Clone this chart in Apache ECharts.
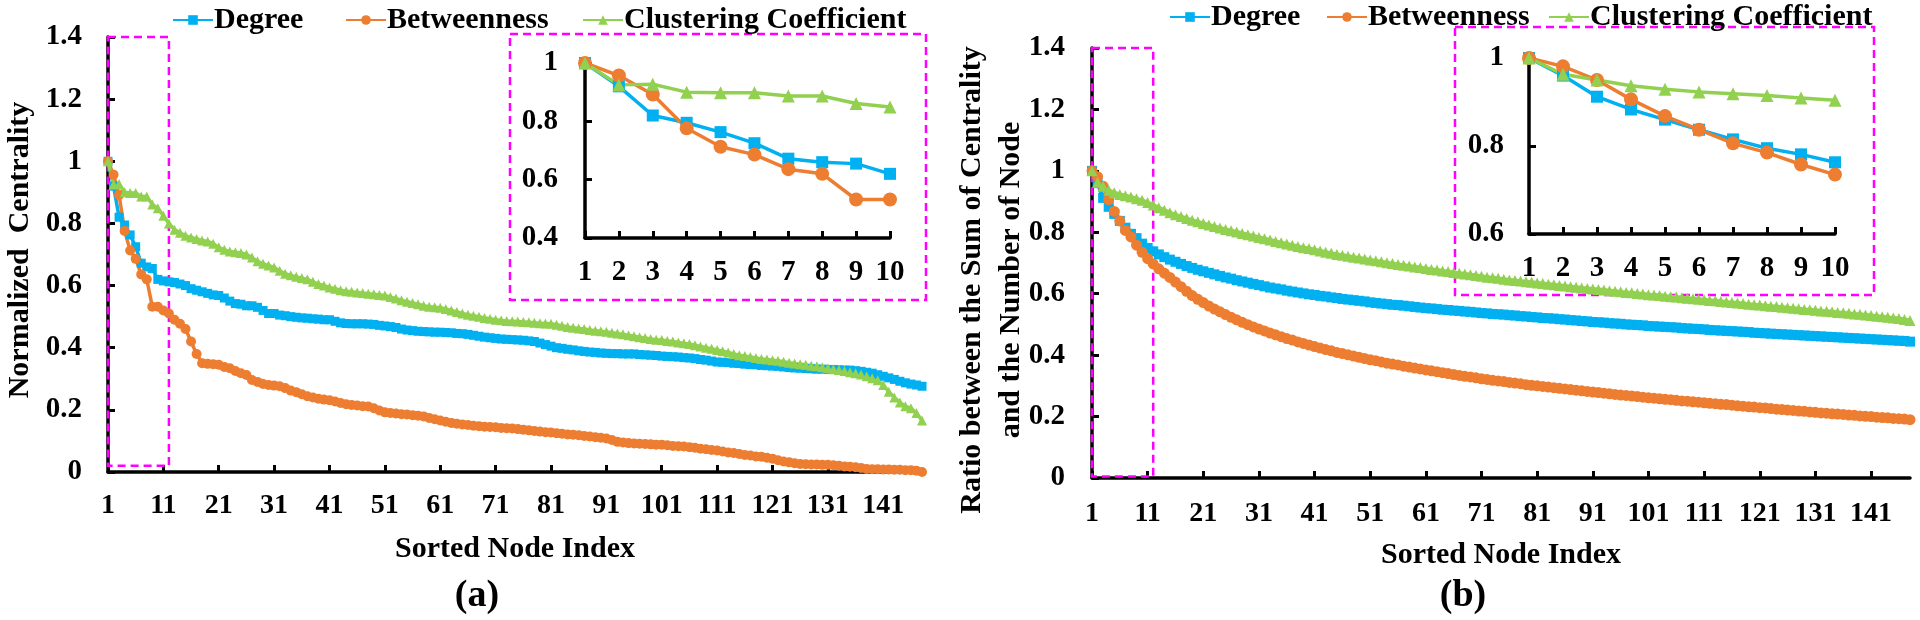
<!DOCTYPE html>
<html><head><meta charset="utf-8">
<script src="https://cdn.jsdelivr.net/npm/echarts@6/dist/echarts.min.js"></script>
<style>html,body{margin:0;padding:0;background:#fff}#c{width:1920px;height:620px}</style>
</head><body><div id="c"></div>
<script>
// ---------- categories / tick labels ----------
const nodeIndex = [];
for (let i = 1; i <= 148; i++) nodeIndex.push(String(i));
const insetIndex = ['1','2','3','4','5','6','7','8','9','10'];
const seriesNames = ['Degree', 'Betweenness', 'Clustering Coefficient'];

// ---------- (a) normalized centrality, sorted ----------
const degreeA = [
 1, 0.92, 0.82, 0.795, 0.763, 0.725, 0.672, 0.66, 0.655, 0.62,
 0.615, 0.612, 0.61, 0.605, 0.60, 0.59, 0.585, 0.58, 0.575, 0.57,
 0.568, 0.56, 0.55, 0.542, 0.54, 0.535, 0.535, 0.53, 0.52, 0.51,
 0.51, 0.505, 0.503, 0.50, 0.498, 0.496, 0.495, 0.493, 0.492, 0.49,
 0.49, 0.485, 0.48, 0.478, 0.477, 0.477, 0.477, 0.476, 0.475, 0.472,
 0.47, 0.468, 0.465, 0.46, 0.457, 0.455, 0.453, 0.452, 0.451, 0.45,
 0.45, 0.449, 0.448, 0.446, 0.445, 0.443, 0.44, 0.437, 0.434, 0.432,
 0.43, 0.428, 0.427, 0.426, 0.425, 0.424, 0.422, 0.42, 0.415, 0.41,
 0.405, 0.40, 0.398, 0.395, 0.393, 0.39, 0.388, 0.386, 0.385, 0.383,
 0.382, 0.381, 0.381, 0.38, 0.38, 0.38, 0.378, 0.377, 0.376, 0.375,
 0.373, 0.372, 0.371, 0.37, 0.368, 0.367, 0.365, 0.362, 0.36, 0.357,
 0.354, 0.353, 0.352, 0.35, 0.349, 0.347, 0.346, 0.345, 0.343, 0.342,
 0.341, 0.34, 0.338, 0.336, 0.335, 0.334, 0.333, 0.332, 0.331, 0.331,
 0.33, 0.33, 0.329, 0.328, 0.328, 0.326, 0.324, 0.321, 0.318, 0.313,
 0.308, 0.303, 0.298, 0.292, 0.287, 0.283, 0.28, 0.276
];
const betweennessA = [
 1, 0.957, 0.892, 0.776, 0.713, 0.686, 0.636, 0.62, 0.532, 0.532,
 0.52, 0.51, 0.49, 0.477, 0.46, 0.42, 0.38, 0.35, 0.348, 0.347,
 0.345, 0.338, 0.334, 0.325, 0.318, 0.312, 0.296, 0.29, 0.283, 0.28,
 0.278, 0.276, 0.27, 0.262, 0.257, 0.25, 0.244, 0.24, 0.236, 0.233,
 0.231, 0.227, 0.222, 0.218, 0.216, 0.214, 0.212, 0.211, 0.205, 0.198,
 0.192, 0.19, 0.188, 0.186, 0.185, 0.183, 0.181, 0.179, 0.174, 0.17,
 0.166, 0.162, 0.158, 0.155, 0.153, 0.151, 0.149, 0.147, 0.146, 0.145,
 0.144, 0.142, 0.141, 0.14, 0.138, 0.136, 0.134, 0.132, 0.13, 0.128,
 0.127, 0.125, 0.123, 0.121, 0.12, 0.118, 0.116, 0.114, 0.112, 0.11,
 0.108, 0.103, 0.097, 0.095, 0.093, 0.092, 0.091, 0.09, 0.089, 0.088,
 0.088, 0.086, 0.084, 0.083, 0.082, 0.08, 0.078, 0.075, 0.073, 0.071,
 0.069, 0.066, 0.063, 0.061, 0.058, 0.055, 0.053, 0.05, 0.049, 0.046,
 0.043, 0.038, 0.034, 0.031, 0.028, 0.026, 0.025, 0.024, 0.024, 0.023,
 0.023, 0.022, 0.02, 0.018, 0.017, 0.015, 0.013, 0.01, 0.009, 0.009,
 0.008, 0.008, 0.007, 0.007, 0.006, 0.006, 0.004, 0.0
];
const clusteringA = [
 1, 0.925, 0.927, 0.90, 0.898, 0.898, 0.887, 0.887, 0.861, 0.849,
 0.825, 0.80, 0.78, 0.77, 0.76, 0.755, 0.75, 0.745, 0.742, 0.735,
 0.723, 0.715, 0.71, 0.707, 0.705, 0.70, 0.69, 0.678, 0.67, 0.665,
 0.658, 0.648, 0.638, 0.633, 0.628, 0.624, 0.62, 0.612, 0.605, 0.60,
 0.594, 0.59, 0.585, 0.582, 0.58, 0.578, 0.576, 0.574, 0.572, 0.57,
 0.568, 0.563, 0.558, 0.553, 0.548, 0.544, 0.54, 0.535, 0.532, 0.53,
 0.529, 0.525, 0.52, 0.515, 0.51, 0.506, 0.503, 0.50, 0.496, 0.493,
 0.49, 0.488, 0.486, 0.485, 0.484, 0.483, 0.482, 0.48, 0.479, 0.478,
 0.477, 0.474, 0.471, 0.467, 0.464, 0.462, 0.46, 0.457, 0.455, 0.453,
 0.451, 0.448, 0.446, 0.443, 0.44, 0.437, 0.434, 0.431, 0.428, 0.426,
 0.425, 0.422, 0.42, 0.417, 0.414, 0.412, 0.408, 0.404, 0.40, 0.397,
 0.393, 0.389, 0.385, 0.38, 0.376, 0.373, 0.37, 0.367, 0.364, 0.362,
 0.36, 0.358, 0.355, 0.352, 0.349, 0.347, 0.345, 0.342, 0.34, 0.337,
 0.334, 0.331, 0.328, 0.325, 0.321, 0.318, 0.314, 0.308, 0.302, 0.295,
 0.28, 0.258, 0.24, 0.224, 0.212, 0.205, 0.19, 0.166
];

// ---------- (b) ratio between sum of centrality and number of nodes ----------
const degreeB = [
 1, 0.96, 0.912, 0.883, 0.86, 0.837, 0.815, 0.795, 0.781, 0.763,
 0.749, 0.738, 0.728, 0.719, 0.711, 0.704, 0.697, 0.690, 0.684, 0.678,
 0.673, 0.668, 0.663, 0.658, 0.653, 0.649, 0.644, 0.640, 0.636, 0.632,
 0.628, 0.624, 0.620, 0.617, 0.614, 0.610, 0.607, 0.604, 0.601, 0.598,
 0.596, 0.593, 0.591, 0.588, 0.586, 0.583, 0.581, 0.579, 0.577, 0.575,
 0.572, 0.570, 0.568, 0.566, 0.564, 0.563, 0.561, 0.559, 0.557, 0.555,
 0.553, 0.552, 0.550, 0.548, 0.547, 0.545, 0.544, 0.542, 0.541, 0.539,
 0.537, 0.536, 0.534, 0.533, 0.532, 0.530, 0.529, 0.527, 0.526, 0.524,
 0.523, 0.521, 0.520, 0.519, 0.517, 0.516, 0.514, 0.513, 0.511, 0.510,
 0.508, 0.507, 0.506, 0.504, 0.503, 0.502, 0.500, 0.499, 0.498, 0.497,
 0.495, 0.494, 0.493, 0.492, 0.491, 0.490, 0.488, 0.487, 0.486, 0.485,
 0.484, 0.482, 0.481, 0.480, 0.479, 0.478, 0.477, 0.476, 0.475, 0.473,
 0.472, 0.471, 0.470, 0.469, 0.468, 0.467, 0.466, 0.465, 0.464, 0.463,
 0.462, 0.461, 0.460, 0.459, 0.458, 0.457, 0.456, 0.455, 0.454, 0.453,
 0.452, 0.451, 0.450, 0.449, 0.448, 0.447, 0.446, 0.444
];
const betweennessB = [
 1, 0.981, 0.95, 0.906, 0.868, 0.837, 0.806, 0.785, 0.758, 0.735,
 0.714, 0.697, 0.681, 0.667, 0.653, 0.638, 0.623, 0.608, 0.594, 0.582,
 0.571, 0.560, 0.550, 0.541, 0.532, 0.523, 0.515, 0.507, 0.499, 0.492,
 0.485, 0.479, 0.472, 0.466, 0.460, 0.454, 0.449, 0.443, 0.438, 0.433,
 0.428, 0.423, 0.418, 0.414, 0.409, 0.405, 0.401, 0.397, 0.393, 0.389,
 0.385, 0.382, 0.378, 0.374, 0.371, 0.368, 0.364, 0.361, 0.358, 0.355,
 0.352, 0.349, 0.346, 0.343, 0.340, 0.337, 0.334, 0.331, 0.329, 0.326,
 0.323, 0.321, 0.318, 0.316, 0.314, 0.311, 0.309, 0.307, 0.304, 0.302,
 0.300, 0.298, 0.296, 0.294, 0.292, 0.290, 0.288, 0.286, 0.284, 0.282,
 0.280, 0.278, 0.276, 0.274, 0.272, 0.270, 0.269, 0.267, 0.265, 0.263,
 0.261, 0.260, 0.258, 0.256, 0.255, 0.253, 0.251, 0.250, 0.248, 0.247,
 0.245, 0.243, 0.242, 0.240, 0.239, 0.237, 0.235, 0.234, 0.232, 0.231,
 0.229, 0.228, 0.226, 0.224, 0.223, 0.221, 0.220, 0.218, 0.217, 0.215,
 0.214, 0.212, 0.211, 0.209, 0.208, 0.207, 0.205, 0.204, 0.202, 0.201,
 0.200, 0.198, 0.197, 0.196, 0.194, 0.193, 0.192, 0.190
];
const clusteringB = [
 1, 0.963, 0.95, 0.937, 0.929, 0.923, 0.919, 0.915, 0.909, 0.904,
 0.897, 0.889, 0.880, 0.872, 0.864, 0.857, 0.851, 0.845, 0.839, 0.834,
 0.829, 0.824, 0.819, 0.814, 0.809, 0.805, 0.801, 0.796, 0.792, 0.788,
 0.783, 0.779, 0.775, 0.770, 0.766, 0.762, 0.758, 0.754, 0.750, 0.747,
 0.743, 0.739, 0.735, 0.732, 0.728, 0.725, 0.722, 0.719, 0.716, 0.713,
 0.710, 0.707, 0.704, 0.701, 0.698, 0.695, 0.693, 0.690, 0.687, 0.685,
 0.682, 0.679, 0.677, 0.674, 0.672, 0.669, 0.667, 0.664, 0.662, 0.659,
 0.657, 0.654, 0.652, 0.650, 0.647, 0.645, 0.643, 0.641, 0.639, 0.637,
 0.635, 0.633, 0.631, 0.629, 0.627, 0.625, 0.623, 0.621, 0.619, 0.617,
 0.615, 0.614, 0.612, 0.610, 0.608, 0.606, 0.604, 0.603, 0.601, 0.599,
 0.597, 0.596, 0.594, 0.592, 0.590, 0.589, 0.587, 0.585, 0.584, 0.582,
 0.580, 0.578, 0.577, 0.575, 0.573, 0.571, 0.570, 0.568, 0.566, 0.564,
 0.563, 0.561, 0.559, 0.558, 0.556, 0.554, 0.553, 0.551, 0.549, 0.548,
 0.546, 0.544, 0.543, 0.541, 0.539, 0.538, 0.536, 0.534, 0.533, 0.531,
 0.529, 0.527, 0.525, 0.523, 0.521, 0.519, 0.516, 0.513
];

// ---------- styling ----------
const FONT = 'Liberation Serif';
const COLORS = ['#00B0F0', '#ED7D31', '#92D050'];
const SYMBOLS = ['rect', 'circle', 'triangle'];
const MAGENTA = '#FF00FF';

function txt(size) { return {color:'#000', fontFamily:FONT, fontWeight:'bold', fontSize:size}; }

function xAxisCfg(gridIndex, data, tickInterval, labelSize, margin, name, nameGap) {
  const o = {
    type:'category', gridIndex, data, boundaryGap:false,
    axisLine:{onZero:false, lineStyle:{color:'#000', width:3.5}},
    axisTick:{inside:true, length:7, interval:tickInterval, lineStyle:{color:'#000', width:3}},
    axisLabel:Object.assign({interval:tickInterval, margin}, txt(labelSize)),
    splitLine:{show:false}
  };
  if (name) { o.name = name; o.nameLocation = 'middle'; o.nameGap = nameGap; o.nameTextStyle = txt(30); }
  return o;
}
function yAxisCfg(gridIndex, min, max, labelSize, margin) {
  return {
    type:'value', gridIndex, min, max, interval:0.2,
    axisLine:{show:true, lineStyle:{color:'#000', width:3.5}},
    axisTick:{show:true, inside:true, length:7, lineStyle:{color:'#000', width:3}},
    axisLabel:Object.assign({margin}, txt(labelSize)),
    splitLine:{show:false}
  };
}
function lineSeries(k, data, xi, yi, size, lw, extra) {
  return Object.assign({
    type:'line', name:seriesNames[k], data, xAxisIndex:xi, yAxisIndex:yi,
    symbol:SYMBOLS[k], symbolSize:size, showAllSymbol:true,
    lineStyle:{color:COLORS[k], width:lw}, itemStyle:{color:COLORS[k]},
    emphasis:{disabled:true}, animation:false
  }, extra || {});
}
function zoomBox(xEnd, yBottom) {
  return {
    silent:true,
    itemStyle:{color:'rgba(0,0,0,0)', borderColor:MAGENTA, borderWidth:2.5, borderType:[8,5]},
    data:[[{xAxis:'1', yAxis:1.4}, {xAxis:xEnd, yAxis:yBottom}]]
  };
}

const aSets = [degreeA, betweennessA, clusteringA];
const bSets = [degreeB, betweennessB, clusteringB];
const mainSizeA = [9, 10, 10];
const mainSizeB = [10, 11, 11];
const insetSize = [12, 14, 13];

const series = [];
aSets.forEach((d, k) => series.push(lineSeries(k, d, 0, 0, mainSizeA[k], 3.5,
  k === 0 ? {markArea: zoomBox('12', 0.02)} : null)));
aSets.forEach((d, k) => series.push(lineSeries(k, d.slice(0, 10), 1, 1, insetSize[k], 3.5)));
bSets.forEach((d, k) => series.push(lineSeries(k, d, 2, 2, mainSizeB[k], 4,
  k === 0 ? {markArea: zoomBox('12', 0.005)} : null)));
bSets.forEach((d, k) => series.push(lineSeries(k, d.slice(0, 10), 3, 3, insetSize[k], 3.5)));

function legend(name, left, top) {
  return {data:[name], left, top, itemWidth:40, itemHeight:12, itemGap:0, padding:[2,0,2,0],
    selectedMode:false, textStyle:Object.assign(txt(30), {padding:[0,0,0,-4]})};
}
function vText(x, y, text, size, lineHeight) {
  return {type:'text', x, y, rotation:Math.PI / 2, silent:true,
    style:{text, font:'bold ' + size + 'px ' + FONT, fill:'#000', textAlign:'center',
      textVerticalAlign:'middle', lineHeight}};
}

const option = {
  animation:false,
  backgroundColor:'#fff',
  grid:[
    {left:108, top:37, width:814, height:435},
    {left:585, top:63, width:305, height:175},
    {left:1092, top:48, width:818, height:430},
    {left:1529, top:58, width:306, height:176}
  ],
  legend:[
    legend('Degree', 172, 3), legend('Betweenness', 345, 3), legend('Clustering Coefficient', 582, 3),
    legend('Degree', 1169, 0), legend('Betweenness', 1326, 0), legend('Clustering Coefficient', 1548, 0)
  ],
  xAxis:[
    xAxisCfg(0, nodeIndex, 9, 28, 20, 'Sorted Node Index', 62),
    xAxisCfg(1, insetIndex, 0, 29, 20),
    xAxisCfg(2, nodeIndex, 9, 28, 22, 'Sorted Node Index', 62),
    xAxisCfg(3, insetIndex, 0, 29, 20)
  ],
  yAxis:[
    yAxisCfg(0, 0, 1.4, 29, 26),
    yAxisCfg(1, 0.4, 1.0, 29, 27),
    yAxisCfg(2, 0, 1.4, 29, 27),
    yAxisCfg(3, 0.6, 1.0, 29, 25)
  ],
  graphic:[
    {type:'rect', silent:true, shape:{x:510, y:34, width:416, height:266},
      style:{fill:'none', stroke:MAGENTA, lineWidth:2.5, lineDash:[8,5]}},
    {type:'rect', silent:true, shape:{x:1455, y:27, width:419, height:268},
      style:{fill:'none', stroke:MAGENTA, lineWidth:2.5, lineDash:[8,5]}},
    vText(20, 250, 'Normalized  Centrality', 30, 34),
    vText(992, 280, 'Ratio between the Sum of Centrality\nand the Number of Node', 30, 39),
    {type:'text', x:477, y:596, silent:true, style:{text:'(a)', font:'bold 38px ' + FONT, fill:'#000', textAlign:'center', textVerticalAlign:'middle'}},
    {type:'text', x:1463, y:596, silent:true, style:{text:'(b)', font:'bold 38px ' + FONT, fill:'#000', textAlign:'center', textVerticalAlign:'middle'}}
  ],
  series
};

const chart = echarts.init(document.getElementById('c'), null, {renderer:'canvas'});
chart.setOption(option);
</script>
</body></html>
